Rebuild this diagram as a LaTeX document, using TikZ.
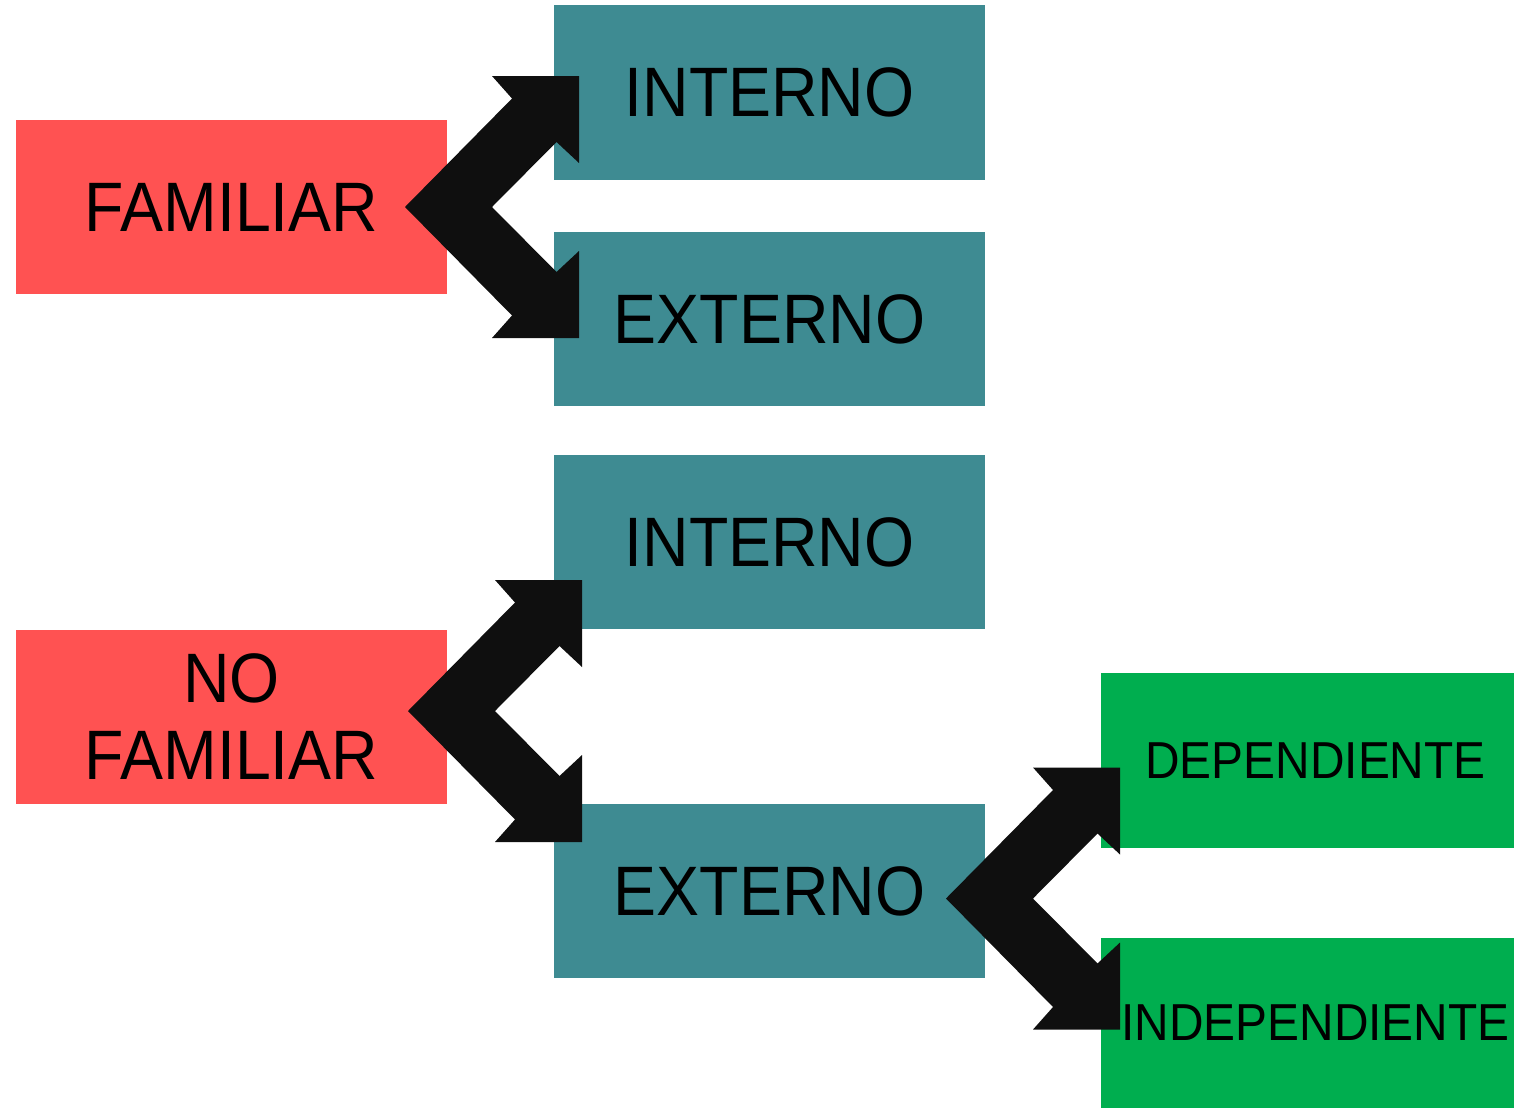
\documentclass[tikz,border=0pt]{standalone}
\usepackage{fontspec}
\setmainfont{Liberation Sans}
\definecolor{redbox}{HTML}{FF5252}
\definecolor{tealbox}{HTML}{3E8B92}
\definecolor{greenbox}{HTML}{00AE4F}
\definecolor{arrowblack}{HTML}{0F0F0F}
\newcommand{\sq}[1]{\scalebox{0.92}[1]{#1}}
\begin{document}
\begin{tikzpicture}[x=1pt,y=-1pt,
  box/.style={rectangle,inner sep=0pt,minimum width=431pt,minimum height=174pt,align=center,font=\fontsize{70}{77}\selectfont},
  redb/.style={box,fill=redbox},
  tealb/.style={box,fill=tealbox},
  greenb/.style={box,fill=greenbox,minimum width=413pt,minimum height=175pt,font=\fontsize{52}{60}\selectfont},
  dblarrow/.pic={\fill[arrowblack] (0,0) -- (107,-108.5) -- (87,-131) -- (174,-131) -- (174,-44) -- (151.5,-65) -- (87,0) -- (151.5,65) -- (174,44) -- (174,131) -- (87,131) -- (107,108.5) -- cycle;}]
\useasboundingbox (0,0) rectangle (1514,1108);
\node[redb] (fam) at (231.5,207) {\sq{FAMILIAR}};
\node[tealb] (int1) at (769.5,92.5) {\sq{INTERNO}};
\node[tealb] (ext1) at (769.5,319) {\sq{EXTERNO}};
\node[tealb] (int2) at (769.5,542) {\sq{INTERNO}};
\node[redb] (nofam) at (231.5,716.5) {\sq{NO}\\\sq{FAMILIAR}};
\node[tealb] (ext2) at (769.5,891) {\sq{EXTERNO}};
\node[greenb,minimum height=175pt] (dep) at (1307.5,760.5) {\hspace*{16pt}\sq{DEPENDIENTE}};
\node[greenb,minimum height=170pt] (indep) at (1307.5,1023) {\hspace*{16pt}\sq{INDEPENDIENTE}};
\coordinate (a1) at (405,207);
\coordinate (a2) at (408,711);
\coordinate (a3) at (946,898.5);
\pic at (a1) {dblarrow};
\pic at (a2) {dblarrow};
\pic at (a3) {dblarrow};
\end{tikzpicture}
\end{document}
